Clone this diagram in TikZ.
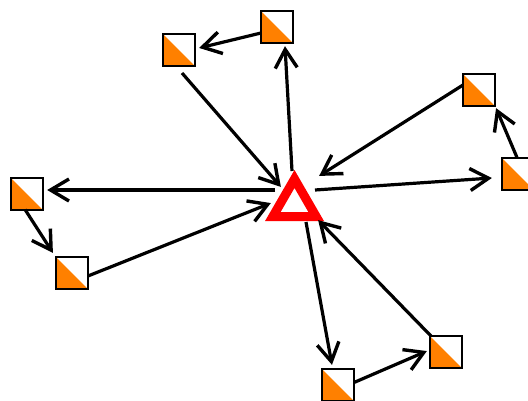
\documentclass[tikz,border=0pt]{standalone}
\usetikzlibrary{arrows.meta,shapes.geometric}
\definecolor{ctrlorange}{RGB}{255,128,0}
\pgfdeclarearrow{
  name=OpenVee,
  setup code={\pgfarrowssettipend{3.5pt}\pgfarrowssetlineend{0pt}\pgfarrowssetbackend{-19pt}\pgfarrowssetvisualbackend{-19pt}\pgfarrowshullpoint{3.5pt}{0pt}\pgfarrowshullpoint{-19pt}{11pt}\pgfarrowshullpoint{-19pt}{-11pt}},
  drawing code={\pgfsetdash{}{0pt}\pgfsetlinewidth{3.4pt}\pgfsetmiterjoin\pgfsetbuttcap
    \pgfpathmoveto{\pgfpoint{-18.5pt}{11pt}}\pgfpathlineto{\pgfpointorigin}\pgfpathlineto{\pgfpoint{-18.5pt}{-11pt}}\pgfusepathqstroke}
}
\tikzset{
  control/.style={draw=black,line width=1.5pt,fill=white,minimum size=32pt,inner sep=0pt,outer sep=0pt,
    path picture={\fill[ctrlorange] (path picture bounding box.north west) -- (path picture bounding box.south east) -- (path picture bounding box.south west) -- cycle;}},
  startmark/.style={regular polygon,regular polygon sides=3,draw=red,line width=9pt,minimum size=50pt,inner sep=0pt,outer sep=0pt,miter limit=10},
  leg/.style={draw=black,line width=3.2pt,-{OpenVee}}
}
\newcommand{\leg}[6]{\draw[leg] ([shift={(#2,#3)}]#1.center) -- ([shift={(#5,#6)}]#4.center);}
\begin{document}
\begin{tikzpicture}[x=1pt,y=-1pt]
\useasboundingbox (0,0) rectangle (528,400);
\clip (0,0) rectangle (528,400);
\node[control] (A) at (277,27) {};
\node[control] (B) at (179,50) {};
\node[control] (C) at (479,90) {};
\node[control] (D) at (518,174) {};
\node[control] (E) at (27,194) {};
\node[control] (F) at (72,273) {};
\node[control] (G) at (446,352) {};
\node[control] (H) at (338,385) {};
\node[startmark] (T) at (294.5,204) {};
\leg{T}{-2.5}{-33}{A}{8}{19}
\leg{A}{-16}{6}{B}{20}{-2}
\leg{B}{3}{23}{T}{-13.5}{-17}
\leg{T}{-19.5}{-14}{E}{20}{-4}
\leg{E}{-2}{15.5}{F}{-19}{-20}
\leg{F}{16}{3}{T}{-23.5}{-1}
\leg{T}{11.5}{18}{H}{-6}{-20}
\leg{H}{16}{-2.5}{G}{-19}{-1}
\leg{G}{-15}{-16}{T}{23.5}{16}
\leg{T}{20.5}{-14}{D}{-26}{4}
\leg{D}{-1}{-16.5}{C}{17}{18}
\leg{C}{-16}{-5}{T}{24.5}{-28}
\end{tikzpicture}
\end{document}
